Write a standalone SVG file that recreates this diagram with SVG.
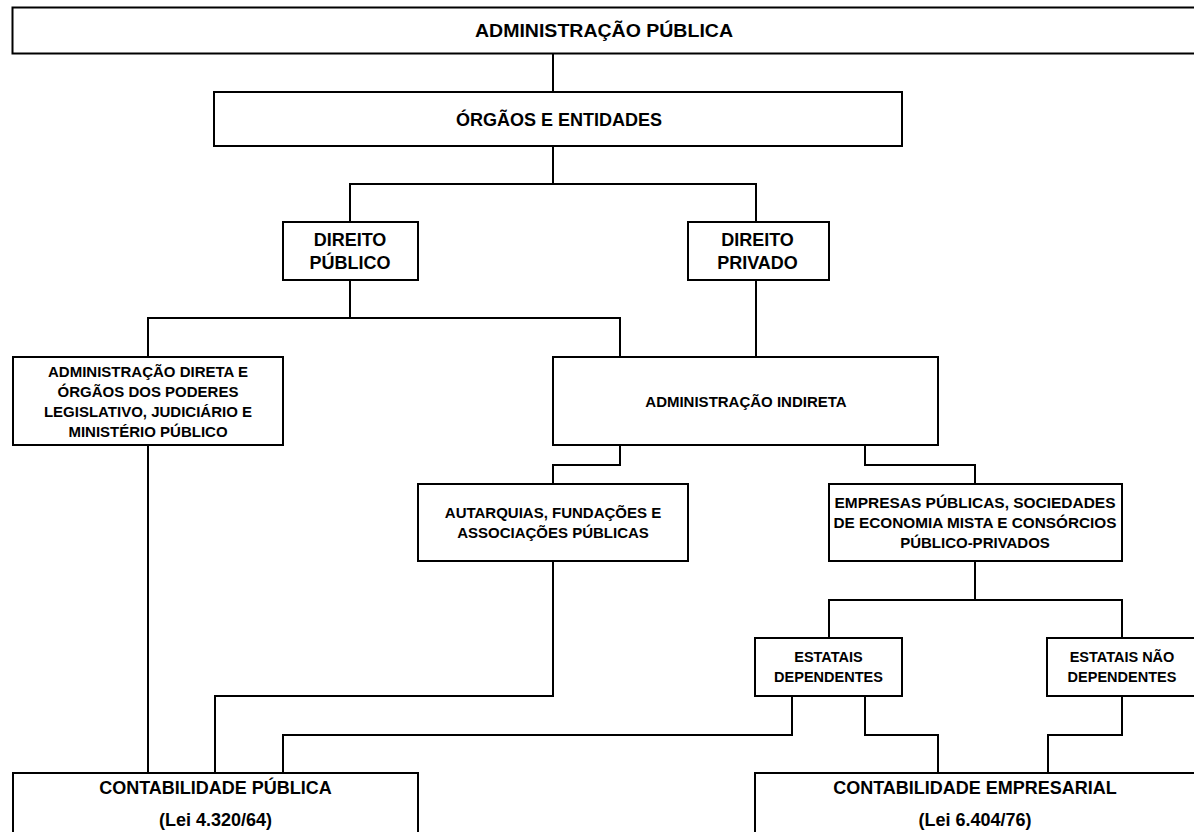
<svg xmlns="http://www.w3.org/2000/svg" width="1194" height="832" viewBox="0 0 1194 832">
  <style>
    .box { fill: #ffffff; stroke: #000000; stroke-width: 2; }
    .wire { fill: none; stroke: #000000; stroke-width: 2; stroke-linecap: square; }
    text { font-family: "Liberation Sans", Arial, sans-serif; font-weight: bold; fill: #000000; text-anchor: middle; }
    .t18 { font-size: 18px; }
    .t15 { font-size: 15px; }
    .t14 { font-size: 14.5px; }
  </style>
  <rect x="0" y="0" width="1194" height="832" fill="#ffffff"/>

  <!-- connectors -->
  <g id="connectors">
    <path class="wire" d="M553 53.5 V92"/>
    <path class="wire" d="M553 146 V184 M350 222 V184 H756 V222"/>
    <path class="wire" d="M350 280 V318 M148 357 V318 H620 V357"/>
    <path class="wire" d="M756 280 V357"/>
    <path class="wire" d="M148 445 V773"/>
    <path class="wire" d="M620 445 V465 H553 V484"/>
    <path class="wire" d="M553 561 V696 H215 V773"/>
    <path class="wire" d="M865 445 V465 H975 V484"/>
    <path class="wire" d="M975 561 V600 M829 638 V600 H1122 V638"/>
    <path class="wire" d="M792 696 V735 H283 V773"/>
    <path class="wire" d="M865 696 V735 H938 V773"/>
    <path class="wire" d="M1122 696 V735 H1048 V773"/>
  </g>

  <g id="administracao-publica">
    <rect class="box" x="12.5" y="7.5" width="1185" height="46"/>
    <text class="t18" x="604" y="37" textLength="258" lengthAdjust="spacingAndGlyphs">ADMINISTRAÇÃO PÚBLICA</text>
  </g>

  <g id="orgaos-entidades">
    <rect class="box" x="214" y="92" width="688" height="54"/>
    <text class="t18" x="559" y="126" textLength="206" lengthAdjust="spacingAndGlyphs">ÓRGÃOS E ENTIDADES</text>
  </g>

  <g id="direito-publico">
    <rect class="box" x="283" y="222" width="135" height="58"/>
    <text class="t18" x="350" y="246">DIREITO</text>
    <text class="t18" x="350" y="269">PÚBLICO</text>
  </g>

  <g id="direito-privado">
    <rect class="box" x="688" y="222" width="141" height="58"/>
    <text class="t18" x="757.5" y="246">DIREITO</text>
    <text class="t18" x="757.5" y="269">PRIVADO</text>
  </g>

  <g id="administracao-direta">
    <rect class="box" x="13" y="357" width="270" height="88"/>
    <text class="t15" x="148" y="377">ADMINISTRAÇÃO DIRETA E</text>
    <text class="t15" x="148" y="397">ÓRGÃOS DOS PODERES</text>
    <text class="t15" x="148" y="417">LEGISLATIVO, JUDICIÁRIO E</text>
    <text class="t15" x="148" y="437">MINISTÉRIO PÚBLICO</text>
  </g>

  <g id="administracao-indireta">
    <rect class="box" x="553" y="357" width="385" height="88"/>
    <text class="t15" x="746" y="407">ADMINISTRAÇÃO INDIRETA</text>
  </g>

  <g id="autarquias">
    <rect class="box" x="418" y="484" width="270" height="77"/>
    <text class="t15" x="553" y="518">AUTARQUIAS, FUNDAÇÕES E</text>
    <text class="t15" x="553" y="538">ASSOCIAÇÕES PÚBLICAS</text>
  </g>

  <g id="empresas">
    <rect class="box" x="829" y="484" width="293" height="77"/>
    <text class="t15" x="975" y="508" textLength="281" lengthAdjust="spacingAndGlyphs">EMPRESAS PÚBLICAS, SOCIEDADES</text>
    <text class="t15" x="975" y="528" textLength="283" lengthAdjust="spacingAndGlyphs">DE ECONOMIA MISTA E CONSÓRCIOS</text>
    <text class="t15" x="975" y="548">PÚBLICO-PRIVADOS</text>
  </g>

  <g id="estatais-dependentes">
    <rect class="box" x="755" y="638" width="147" height="58"/>
    <text class="t14" x="828.5" y="662">ESTATAIS</text>
    <text class="t14" x="828.5" y="682">DEPENDENTES</text>
  </g>

  <g id="estatais-nao-dependentes">
    <rect class="box" x="1047" y="638" width="150" height="58"/>
    <text class="t14" x="1122" y="662">ESTATAIS NÃO</text>
    <text class="t14" x="1122" y="682">DEPENDENTES</text>
  </g>

  <g id="contabilidade-publica">
    <rect class="box" x="13" y="773" width="405" height="80"/>
    <text class="t18" x="215.5" y="794">CONTABILIDADE PÚBLICA</text>
    <text class="t18" x="215.5" y="826">(Lei 4.320/64)</text>
  </g>

  <g id="contabilidade-empresarial">
    <rect class="box" x="755" y="773" width="442" height="80"/>
    <text class="t18" x="975" y="794">CONTABILIDADE EMPRESARIAL</text>
    <text class="t18" x="975" y="826">(Lei 6.404/76)</text>
  </g>
</svg>
